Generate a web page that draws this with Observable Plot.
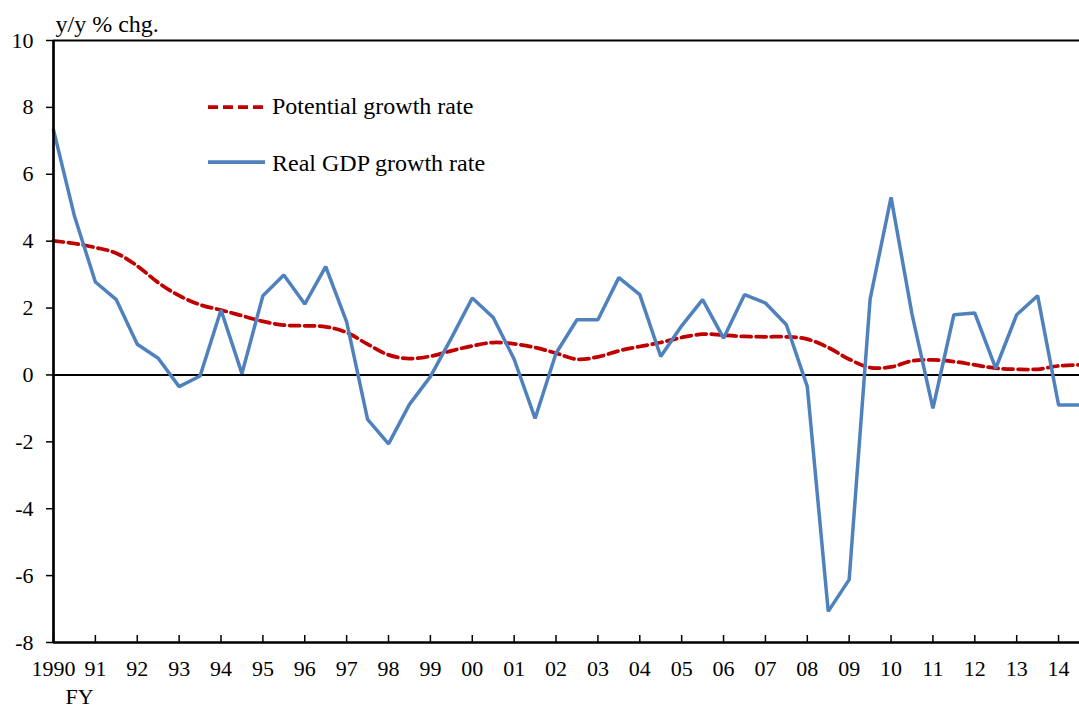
<!DOCTYPE html>
<html>
<head>
<meta charset="utf-8">
<script src="https://cdn.jsdelivr.net/npm/d3@7"></script>
<script src="https://cdn.jsdelivr.net/npm/@observablehq/plot@0.6"></script>
<style>
  html, body { margin: 0; padding: 0; background: #fff; }
  #wrap { position: relative; width: 1079px; height: 709px; font-family: "Liberation Serif", "Times New Roman", serif; }
  .leg { position: absolute; font-size: 24px; line-height: 24px; color: #000; white-space: nowrap; }
  .sw { position: absolute; }
</style>
</head>
<body>
<div id="wrap"></div>
<script>
// Fiscal half-year periods (H1 at the year, H2 at year + 0.5)
const periods = [
  1990, 1990.5, 1991, 1991.5, 1992, 1992.5, 1993, 1993.5, 1994, 1994.5,
  1995, 1995.5, 1996, 1996.5, 1997, 1997.5, 1998, 1998.5, 1999, 1999.5,
  2000, 2000.5, 2001, 2001.5, 2002, 2002.5, 2003, 2003.5, 2004, 2004.5,
  2005, 2005.5, 2006, 2006.5, 2007, 2007.5, 2008, 2008.5, 2009, 2009.5,
  2010, 2010.5, 2011, 2011.5, 2012, 2012.5, 2013, 2013.5, 2014, 2014.5
];

const potentialGrowth = [
  4.01, 3.93, 3.81, 3.64, 3.26, 2.76, 2.37, 2.10, 1.94, 1.77,
  1.60, 1.49, 1.47, 1.44, 1.27, 0.92, 0.60, 0.49, 0.56, 0.72,
  0.87, 0.97, 0.93, 0.82, 0.65, 0.47, 0.54, 0.72, 0.85, 0.97,
  1.12, 1.22, 1.19, 1.15, 1.14, 1.14, 1.07, 0.82, 0.47, 0.22,
  0.24, 0.42, 0.45, 0.40, 0.30, 0.20, 0.17, 0.17, 0.27, 0.30
];

const realGDPGrowth = [
  7.33, 4.75, 2.78, 2.25, 0.92, 0.50, -0.35, -0.03, 1.94, 0.04,
  2.37, 2.99, 2.12, 3.24, 1.59, -1.33, -2.06, -0.88, -0.05, 1.10,
  2.30, 1.72, 0.47, -1.30, 0.65, 1.65, 1.65, 2.91, 2.40, 0.55,
  1.47, 2.25, 1.10, 2.40, 2.15, 1.50, -0.35, -7.07, -6.12, 2.27,
  5.31, 1.82, -1.00, 1.80, 1.85, 0.20, 1.80, 2.37, -0.90, -0.90
];

const yearTicks = [
  1990, 1991, 1992, 1993, 1994, 1995, 1996, 1997, 1998, 1999,
  2000, 2001, 2002, 2003, 2004, 2005, 2006, 2007, 2008, 2009,
  2010, 2011, 2012, 2013, 2014
];
const yTicks = [-8, -6, -4, -2, 0, 2, 4, 6, 8, 10];

const seriesNames = ["Potential growth rate", "Real GDP growth rate"];
const seriesColors = ["#C00000", "#4F81BD"];
const yUnit = "y/y % chg.";
const xUnit = "FY";

const potentialData = periods.map((p, i) => ({x: p, y: potentialGrowth[i]}));
const gdpData = periods.map((p, i) => ({x: p, y: realGDPGrowth[i]}));

const fontFamily = '"Liberation Serif", "Times New Roman", serif';

const chart = Plot.plot({
  width: 1079,
  height: 709,
  marginTop: 40,
  marginBottom: 67,
  marginLeft: 53,
  marginRight: 0,
  style: {fontFamily, fontSize: "22px", color: "#000", background: "#fff"},
  x: {domain: [1990, 2014.5]},
  y: {domain: [-8, 10]},
  marks: [
    Plot.ruleY([10], {stroke: "#000", strokeWidth: 2}),
    Plot.ruleY([0], {stroke: "#000", strokeWidth: 2}),
    Plot.line(potentialData, {
      x: "x", y: "y", stroke: seriesColors[0], strokeWidth: 3.75,
      strokeDasharray: "10,5", curve: "catmull-rom"
    }),
    Plot.line(gdpData, {
      x: "x", y: "y", stroke: seriesColors[1], strokeWidth: 3.5, strokeLinejoin: "miter"
    }),
    Plot.ruleX([1990], {stroke: "#000", strokeWidth: 2.7}),
    Plot.ruleY([-8], {stroke: "#000", strokeWidth: 2.7}),
    Plot.axisY({
      ticks: yTicks, tickSize: 7, tickPadding: 13, fontSize: 22,
      tickFormat: d => String(d), label: null, stroke: "#000", strokeWidth: 1.5
    }),
    Plot.axisX({
      ticks: yearTicks, tickSize: -7, tickPadding: 25, fontSize: 22,
      tickFormat: d => d === 1990 ? "1990" : String(d).slice(2),
      label: null, stroke: "#000", strokeWidth: 1.5
    }),
    Plot.text([yUnit], {
      frameAnchor: "top-left", textAnchor: "start", lineAnchor: "bottom",
      dx: 2, dy: -9, fontSize: 24, fill: "#000"
    }),
    Plot.text([xUnit], {
      frameAnchor: "bottom-left", textAnchor: "start", lineAnchor: "bottom",
      dx: 12, dy: 61, fontSize: 22, fill: "#000"
    })
  ]
});

const wrap = document.getElementById("wrap");
wrap.appendChild(chart);

// Legend (inside plot area, upper left)
const legendItems = [
  {name: seriesNames[0], color: seriesColors[0], dash: "10,5", top: 94, lineY: 106.7},
  {name: seriesNames[1], color: seriesColors[1], dash: null, top: 151, lineY: 162.3}
];
for (const it of legendItems) {
  const sw = document.createElementNS("http://www.w3.org/2000/svg", "svg");
  sw.setAttribute("class", "sw");
  sw.setAttribute("width", "60");
  sw.setAttribute("height", "10");
  sw.style.left = "207px";
  sw.style.top = (it.lineY - 5) + "px";
  const ln = document.createElementNS("http://www.w3.org/2000/svg", "line");
  ln.setAttribute("x1", "1"); ln.setAttribute("x2", "58");
  ln.setAttribute("y1", "5"); ln.setAttribute("y2", "5");
  ln.setAttribute("stroke", it.color);
  ln.setAttribute("stroke-width", "3.75");
  if (it.dash) ln.setAttribute("stroke-dasharray", it.dash);
  sw.appendChild(ln);
  wrap.appendChild(sw);
  const t = document.createElement("div");
  t.className = "leg";
  t.style.left = "272px";
  t.style.top = it.top + "px";
  t.textContent = it.name;
  wrap.appendChild(t);
}
</script>
</body>
</html>
